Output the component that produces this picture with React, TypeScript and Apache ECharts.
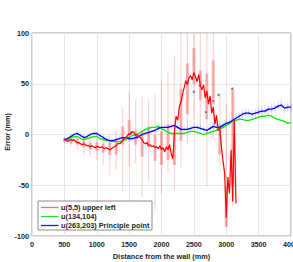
import React, { useEffect, useRef } from "react";
import * as echarts from "echarts";

const X_MIN = 0;
const X_MAX = 4000;
const X_INTERVAL = 500;
const Y_MIN = -100;
const Y_MAX = 100;
const Y_INTERVAL = 50;

const SERIES_NAMES = ["u(5,5) upper left", "u(134,104)", "u(263,203) Principle point"];
const X_TITLE = "Distance from the wall (mm)";
const Y_TITLE = "Error (mm)";

// red series: distances 500..3150 every 25 mm
const redStart = 500;
const redStep = 25;
const redValues = [
  -5, -6, -7, -6, -5, -6, -5, -7, -8, -8, -9, -10, -9, -10, -11, -11, -12, -11, -12, -13,
  -12, -12, -13, -12, -13, -14, -13, -14, -15, -14, -13, -12, -11, -9, -9, -8, -6, -4, -3, -1,
  1, 0, 3, 2, -1, 0, -2, -3, -5, -8, -9, -8, -11, -10, -12, -11, -13, -12, -14, -11,
  -15, -13, -17, -12, -15, -10, -19, -24, 2, 18, 14, 27, 32, 40, 46, 53, 49, 56, 58, 54,
  61, 57, 52, 59, 48, 44, 49, 36, 43, 30, 38, 21, 27, 10, 19, 4, 6, -12, -26, -38,
  -82, -42, -58, -15, -66, 14, -68,
];

// red spread bars every 100 mm
const redBarX = [500, 600, 700, 800, 900, 1000, 1100, 1200, 1300, 1400, 1500, 1600, 1700, 1800, 1900, 2000, 2100, 2200, 2300, 2400, 2500, 2600, 2700, 2800, 2900, 3000, 3100];
const redWhiskerLo = [-9, -12, -15, -20, -22, -25, -30, -40, -35, -56, -32, -28, -62, -46, -74, -58, -38, -55, -32, -9, 15, 5, -51, -5, -30, -91, -71];
const redWhiskerHi = [-2, 0, 2, 0, 2, 0, -2, 0, 4, 27, 42, 34, 37, 34, 40, 53, 61, 78, 110, 110, 110, 110, 110, 110, 40, 30, 47];
const redBoxLo = [-7, -9, -10, -13, -15, -16, -18, -20, -20, -10, -6, -10, -22, -12, -26, -30, -25, -30, -6, 20, 50, 34, 15, 30, -20, -91, -50];
const redBoxHi = [-4, -4, -4, -6, -8, -8, -9, -8, -5, 8, 14, 4, 4, 8, 0, 3, 10, 2, 45, 70, 85, 63, 60, 73, 10, -51, 45];

// green and blue series: distances 500..4000 every 50 mm
const gbStart = 500;
const gbStep = 50;
const greenValues = [
  -5, -5, -3, -2, -2, -4, -5, -4, -3, -2, -2, -4, -5, -6, -6, -7, -7, -7, -6, -5,
  -3, -1, 0, 1, 3, 5, 6, 7, 7, 8, 6, 4, 2, 1, 1, 1, 1, 1, 2, 3,
  3, 2, 1, 0, 1, 2, 3, 4, 5, 7, 9, 11, 13, 14, 15, 15, 14, 14, 15, 16,
  17, 18, 18, 19, 18, 16, 15, 14, 13, 11, 12,
];
const blueValues = [
  -5, -4, -2, 0, 1, -1, -3, -2, 0, 1, 1, -1, -3, -5, -6, -6, -5, -4, -3, -3,
  -4, -4, -3, -2, 0, 1, 2, 3, 4, 6, 7, 7, 7, 8, 9, 7, 5, 5, 5, 6,
  7, 7, 6, 5, 4, 6, 8, 7, 7, 9, 11, 12, 14, 16, 18, 20, 21, 21, 20, 21,
  22, 23, 23, 25, 25, 26, 28, 29, 26, 27, 27,
];
const blueSpread = [
  3, 3, 3, 3, 3, 3, 3, 3, 3, 3, 3, 3, 3, 3, 3, 3, 3, 3, 3, 3,
  3, 3, 3, 3, 3, 3, 3, 3, 3, 4, 4, 4, 4, 4, 4, 4, 4, 4, 4, 4,
  4, 4, 4, 4, 4, 4, 4, 4, 4, 4, 5, 5, 5, 5, 5, 5, 5, 5, 5, 5,
  6, 6, 6, 6, 6, 6, 6, 6, 6, 6, 6,
];

// isolated grey points
const outlierX = [1530, 1620, 2500, 2594, 2687, 2800, 2882, 3093];
const outlierY = [2, -3, 42, 48, 22, 33, 39, 45];

const FONT = "Liberation Sans, Arial, Helvetica, sans-serif";
const TEXT_COLOR = "#262626";

function spreadRenderer(lineColor: string, boxColor: string, boxW: number, lineW: number) {
  return (params: any, api: any) => {
    const clamp = (v: number) => Math.max(Y_MIN, Math.min(Y_MAX, v));
    const x = api.value(0);
    const lo = api.coord([x, clamp(api.value(1))]);
    const hi = api.coord([x, clamp(api.value(2))]);
    const bLo = api.coord([x, clamp(api.value(3))]);
    const bHi = api.coord([x, clamp(api.value(4))]);
    return {
      type: "group",
      children: [
        {
          type: "line",
          shape: { x1: lo[0], y1: lo[1], x2: hi[0], y2: hi[1] },
          style: { stroke: lineColor, lineWidth: lineW },
        },
        {
          type: "rect",
          shape: { x: bLo[0] - boxW / 2, y: bHi[1], width: boxW, height: Math.max(0, bLo[1] - bHi[1]) },
          style: { fill: boxColor },
        },
      ],
    };
  };
}

export default function App() {
  const ref = useRef<HTMLDivElement>(null);

  useEffect(() => {
    if (!ref.current) return;
    const chart = echarts.init(ref.current, undefined, { renderer: "svg" });

    const redData = redValues.map((v, i) => [redStart + i * redStep, v]);
    const greenData = greenValues.map((v, i) => [gbStart + i * gbStep, v]);
    const blueData = blueValues.map((v, i) => [gbStart + i * gbStep, v]);
    const redBars = redBarX.map((x, i) => [x, redWhiskerLo[i], redWhiskerHi[i], redBoxLo[i], redBoxHi[i]]);
    const blueBars = blueValues.map((v, i) => [
      gbStart + i * gbStep,
      v - blueSpread[i],
      v + blueSpread[i],
      v - blueSpread[i] / 2,
      v + blueSpread[i] / 2,
    ]);
    const outliers = outlierX.map((x, i) => [x, outlierY[i]]);

    const legendTop = 201;
    const legendLeft = 38;
    const rowY = [207.5, 216.5, 225.5];
    const legendColors = ["#ff6a6a", "#22e022", "#1a1aff"];

    chart.setOption({
      animation: false,
      backgroundColor: "#ffffff",
      grid: {
        left: 32,
        top: 33,
        right: 2,
        bottom: 26,
        containLabel: false,
        outerBoundsMode: "none",
        show: true,
        borderColor: "#9a9a9a",
        borderWidth: 1,
        backgroundColor: "transparent",
      },
      xAxis: {
        type: "value",
        min: X_MIN,
        max: X_MAX,
        interval: X_INTERVAL,
        name: X_TITLE,
        nameLocation: "middle",
        nameGap: 16,
        nameTextStyle: { fontFamily: FONT, fontSize: 7.3, fontWeight: "bold", color: TEXT_COLOR },
        axisLine: { show: false },
        axisTick: { show: false },
        axisLabel: {
          fontFamily: FONT,
          fontSize: 7.2,
          fontWeight: "bold",
          color: TEXT_COLOR,
          margin: 5,
          formatter: (v: number) => String(v),
          hideOverlap: false,
        },
        splitLine: { show: true, lineStyle: { color: "#e6e6e6", width: 1 } },
      },
      yAxis: {
        type: "value",
        min: Y_MIN,
        max: Y_MAX,
        interval: Y_INTERVAL,
        axisLine: { show: false },
        axisTick: { show: false },
        axisLabel: {
          fontFamily: FONT,
          fontSize: 7.2,
          fontWeight: "bold",
          color: TEXT_COLOR,
          margin: 3,
          formatter: (v: number) => String(v),
        },
        splitLine: { show: true, lineStyle: { color: "#e6e6e6", width: 1 } },
      },
      series: [
        {
          type: "custom",
          name: "redSpread",
          renderItem: spreadRenderer("rgba(255,0,0,0.17)", "rgba(255,40,40,0.33)", 3, 1.2),
          data: redBars,
          encode: { x: 0, y: [1, 2] },
          silent: true,
          z: 1,
        },
        {
          type: "custom",
          name: "blueSpread",
          renderItem: spreadRenderer("rgba(120,120,255,0.25)", "rgba(130,130,255,0.22)", 2, 0.8),
          data: blueBars,
          encode: { x: 0, y: [1, 2] },
          silent: true,
          z: 1,
        },
        {
          type: "scatter",
          data: outliers,
          symbol: "circle",
          symbolSize: 3,
          itemStyle: { color: "#555555", borderColor: "#ffffff", borderWidth: 0.8 },
          silent: true,
          z: 2,
        },
        {
          type: "line",
          name: SERIES_NAMES[1],
          data: greenData,
          showSymbol: false,
          lineStyle: { color: "#00ee00", width: 1.3 },
          z: 3,
        },
        {
          type: "line",
          name: SERIES_NAMES[2],
          data: blueData,
          showSymbol: false,
          lineStyle: { color: "#0000ff", width: 1.3 },
          z: 4,
        },
        {
          type: "line",
          name: SERIES_NAMES[0],
          data: redData,
          showSymbol: false,
          lineStyle: { color: "#ff0000", width: 1.2 },
          z: 5,
        },
      ],
      graphic: [
        {
          type: "text",
          x: 7,
          y: 132,
          rotation: Math.PI / 2,
          style: {
            text: Y_TITLE,
            fontFamily: FONT,
            fontSize: 7.3,
            fontWeight: "bold",
            fill: TEXT_COLOR,
            align: "center",
            verticalAlign: "middle",
          },
          z: 100,
        },
        {
          type: "rect",
          shape: { x: legendLeft, y: legendTop, width: 114, height: 29 },
          style: { fill: "#ffffff", stroke: "#8a8a8a", lineWidth: 1 },
          z: 100,
        },
        ...SERIES_NAMES.flatMap((name, i) => [
          {
            type: "line",
            shape: { x1: 41, y1: rowY[i], x2: 58.5, y2: rowY[i] },
            style: { stroke: legendColors[i], lineWidth: 1.3 },
            z: 101,
          },
          {
            type: "text",
            x: 61,
            y: rowY[i],
            style: {
              text: name,
              fontFamily: FONT,
              fontSize: 7.3,
              fontWeight: "bold",
              fill: TEXT_COLOR,
              verticalAlign: "middle",
              align: "left",
            },
            z: 101,
          },
        ]),
      ],
    });

    return () => chart.dispose();
  }, []);

  return (
    <div
      ref={ref}
      style={{ position: "fixed", left: 0, top: 0, width: 293, height: 262, background: "#ffffff" }}
    />
  );
}
